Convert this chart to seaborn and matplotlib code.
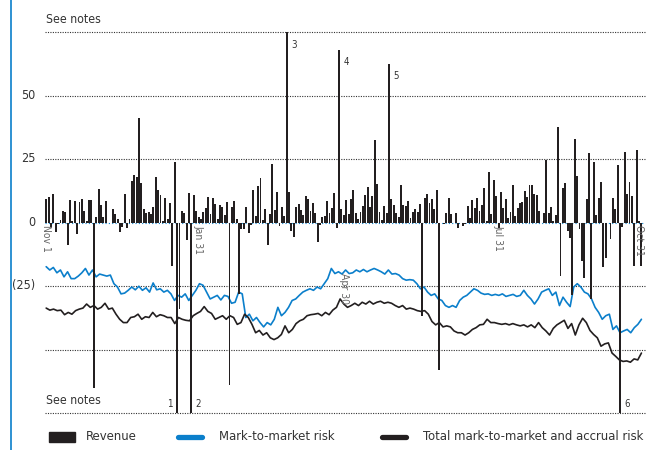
import matplotlib.pyplot as plt
import seaborn as sns
import numpy as np
import pandas as pd
from matplotlib.lines import Line2D
from matplotlib.patches import Rectangle

# Дані: щоденний дохід (Nov 1 - Oct 31), значення поза шкалою = "See notes"
revenue = [
    9.3, 10, -1.7, 11.3, -3.7, -0.7, 1, 4.5, 4.1, -8.7, 8.8, 0.5, 8.5, -4.5, 8.1,
    9.3, 4.5, 0.5, 8.9, 8.9, -65, 2.3, 13.3, 6.7, 2.3, 8.5, 0, 0, 5.3, 3.5, 1.3,
    -3.7, -1.7, 11.3, -2.1, 1.3, 16.5, 18.7, 17.9, 41, 15.7, 5.3, 3.7,
    4, 3.3, 6, 17.9, 12.9, 10.9, 0.5, 9.7, 1.3, 7.7, -17, 24, -80, -34, 4.4, 3.7,
    -7, 11.7, -80, 10.7, 4.5, 2.1, 1.3, 4.3, 5.7, 10.1, 3.3, 9.7, 7.3, 1.3, 6.9,
    6.1, 2.9, 8.1, -64, 6.1, 8.5, 1.3, -28, -2.5,
    -2.4, 6.1, -4, -1, 12.9, 2.5, 14.3, 17.7, 1, 5.3, -8.7, 3.3, 22.9, 4.9, 12.1,
    -1.3, 6.1, 2.5, 90, 12.1, -3.3, -5.7, 6.1, 7.3, 4.9, 2.9, 10.5, 9.3, 4.5, 7.7,
    3.7, -7.7, -1, 2.1, 2.5, 8.5, 3.7, 5.7, 11.7, -2.1, 68, 5.3, 2.9,
    8.9, 3.3, 9.3, 12.9, 3.7, 1.3, 4.1, 6.5, 10.9, 14.1, 6.1, 10.5, 32.5, 15.3, 4.1,
    0.9, 6.5, 3.7, 62.5, 9.3, 6.9, 3.7, 2.1, 14.9, 6.9, 6.5, 8.5, 1.7, 4.1, 5.3,
    4.1, 7.3, -37, 9.7, 11.3, 7.7, 9.3, 5.3, 12.9, -58, 0, -0.5,
    3.7, 9.7, 3.3, 0, 3.7, -2.1, 0, -1.3, -0.5, 6.5, 1.7, 8.9, 5.7, 9.7, 4.5, 6.9,
    13.7, 0.5, 19.7, 3.3, 16.9, 10.5, -2.1, 12.1, 5.7, 9.3, 1.7, 4.1, 14.9, 2.5,
    5.7, 7.7, 8.1, 12.5, 10.1, 14.9, 14.9, 11.3, 10.9, 4.5, 0, 3.7, 24.5,
    3.7, 6.1, 0.5, 2.9, 37.7, -21, 13.7, 15.7, -3.3, -6.1, -28.5, 33, 18.5, -2.5,
    -15, -22, 9.3, 27.3, -30, 23.7, 2.9, 9.7, 16.1, -17.4, -14.1, 0, -6.5, 9.7,
    5.3, 22.5, -80, -1.7, 27.7, 11.3, 16.1, 10.5, -17, 28.5, 0.5, -17,
]

mtm_risk = [
    -17.4, -18.7, -17.7, -19.8, -18.7, -21.4, -19.4, -22.1, -22.1, -21.1, -19.8,
    -18.1, -20.7, -18.7, -21.4, -20.3, -20.7, -21.1, -20.7, -24.1, -25.4, -28.1,
    -27.8, -26.7, -25.4, -26.5, -25.1, -26.7, -25.7, -27.4, -23.8, -26.5, -26.1,
    -27.4, -26.7, -28.1, -30.7, -28.7, -29.4, -28.1, -30.7, -28.7, -26.7, -24.1,
    -24.7, -27.4, -30.1, -29.4, -28.7, -30.5, -28.7, -29.1, -31.8, -31.4, -27.4,
    -28.1, -37.4, -36.1, -38.7, -37.4, -39.4, -41.1, -39.4, -40.3, -38.1, -33.4,
    -36.7, -35.4, -33.4, -30.7, -30.1, -28.7, -27.4, -26.7, -26.1, -26.7, -25.4,
    -26.1, -24.1, -22.1, -18.1, -20.1, -19.4, -20.3, -18.7, -20.1, -19.8, -18.7,
    -19.4, -18.5, -19.4, -18.7, -18.1, -18.7, -19.4, -20.3, -18.7, -20.3, -20.1,
    -20.7, -22.1, -22.7, -22.5, -22.7, -24.1, -26.1, -25.4, -27.4, -28.7, -28.1,
    -30.1, -30.7, -32.7, -33.4, -32.7, -33.4, -30.7, -29.4, -28.7, -27.4, -26.1,
    -26.7, -27.8, -28.3, -28.1, -28.7, -28.3, -28.7, -28.1, -29.1, -28.7, -28.3,
    -29.1, -28.7, -26.7, -28.7, -30.1, -32.1, -30.1, -27.4, -26.7, -26.1, -28.7,
    -27.4, -32.7, -29.4, -31.4, -33.1, -25.4, -24.1, -25.4, -27.4, -28.1, -30.1,
    -33.4, -35.4, -38.1, -36.7, -36.1, -42.1, -40.7, -43.4, -42.7, -42.1, -43.4,
    -41.4, -40.1, -38.1,
]

total_risk = [
    -33.7, -34.5, -34.1, -34.7, -34.5, -36.3, -35.4, -36.1, -34.7, -34.1, -33.7,
    -32.1, -33.4, -32.7, -34.1, -33.4, -31.8, -34.1, -33.7, -36.1, -38.1, -39.4,
    -39.4, -37.4, -37.1, -36.1, -38.1, -37.1, -37.4, -35.4, -37.1, -36.3, -36.7,
    -37.4, -37.4, -39.8, -37.4, -38.1, -38.5, -38.7, -36.7, -35.8, -35.0, -33.1,
    -35.0, -35.8, -38.1, -37.4, -36.7, -38.1, -36.7, -37.4, -40.1, -39.4, -36.1,
    -37.4, -40.1, -43.4, -42.5, -44.3, -43.4, -45.4, -46.1, -45.4, -44.1, -40.7,
    -43.4, -42.1, -39.8, -38.7, -38.1, -36.7, -36.3, -36.1, -35.8, -36.7, -35.4,
    -36.3, -34.5, -33.4, -30.1, -32.1, -33.4, -32.7, -31.8, -32.7, -31.4, -32.1,
    -31.0, -32.1, -31.4, -31.0, -31.8, -31.4, -31.8, -32.7, -33.4, -32.7, -34.1,
    -33.7, -34.1, -34.7, -35.0, -34.7, -36.1, -39.0, -40.3, -39.4, -41.1, -40.7,
    -41.1, -42.7, -43.4, -43.4, -44.3, -43.4, -42.1, -41.4, -40.3, -40.1, -38.1,
    -39.4, -39.4, -39.8, -40.1, -39.8, -40.3, -39.8, -40.3, -40.7, -40.3, -41.1,
    -40.3, -41.4, -39.4, -41.4, -42.7, -44.3, -41.7, -40.3, -39.4, -38.5, -41.7,
    -39.8, -44.3, -40.3, -37.7, -39.4, -42.5, -44.1, -45.4, -48.7, -47.8, -47.4,
    -51.4, -52.7, -54.1, -54.7, -54.5, -55.0, -53.7, -54.1, -51.4,
]

date_labels = ["Nov 1", "Jan 31", "Apr 30", "Jul 31", "Oct 31"]
date_days = [0, 64, 125, 190, 249]
note_labels = ["1", "2", "3", "4", "5", "6"]
note_days = [55, 61, 101, 123, 144, 241]

BAR = "#231f20"
BLUE = "#0b7fcb"
TXT = "#333333"

sns.set_style("white")
plt.rcParams["font.family"] = ["DejaVu Sans"]
plt.rcParams["font.stretch"] = "condensed"

fig = plt.figure(figsize=(6.7, 4.5), dpi=100)
ax = fig.add_axes([45 / 670, 1 - 413 / 450, 600 / 670, 381 / 450])

days = np.arange(len(revenue))
bars_df = pd.DataFrame({"day": days, "revenue": revenue})

# сітка
for v in [75, 50, 25, -25, -50, -75]:
    ax.axhline(v, color="#333333", lw=0.8, ls=(0, (1, 1.2)), zorder=1, clip_on=False)
ax.axhline(0, color=BLUE, lw=0.8, ls=(0, (1, 2)), zorder=1)

# лінії ризику
sns.lineplot(x=np.linspace(0, len(revenue) - 1, len(mtm_risk)), y=mtm_risk,
             color=BLUE, lw=1.2, ax=ax, zorder=2)
sns.lineplot(x=np.linspace(0, len(revenue) - 1, len(total_risk)), y=total_risk,
             color=BAR, lw=1.2, ax=ax, zorder=2)

# стовпці доходу
sns.barplot(data=bars_df, x="day", y="revenue", native_scale=True, color=BAR,
            saturation=1, width=0.8, errorbar=None, ax=ax, zorder=3)
for p in ax.patches:
    p.set_edgecolor("none")

ax.set_xlim(-0.5, len(revenue) + 0.5)
ax.set_ylim(-75, 75)
ax.set_xticks([])
ax.set_yticks([])
ax.set_xlabel("")
ax.set_ylabel("")
sns.despine(ax=ax, left=True, bottom=True)

# підписи осі Y
for v, lab in [(50, "50"), (25, "25"), (0, "0"), (-25, "(25)")]:
    ax.annotate(lab, xy=(0, v), xycoords=("axes fraction", "data"),
                xytext=(-7, 0), textcoords="offset points",
                ha="right", va="center", fontsize=9, color=TXT)
for v in [75, -75]:
    ax.annotate("See notes", xy=(0, v), xycoords=("axes fraction", "data"),
                xytext=(1, 4), textcoords="offset points",
                ha="left", va="bottom", fontsize=8.8, color=TXT)

# підписи дат
for d, lab in zip(date_days, date_labels):
    y0 = -20 if lab == "Apr 30" else -1
    ax.text(d, y0, lab, rotation=270, ha="center", va="top",
            fontsize=7.5, color="#666666")

# номери приміток
for d, lab in zip(note_days, note_labels):
    val = revenue[d]
    if val > 0:
        y = min(val, 75) - 3
        ax.annotate(lab, xy=(d, y), xytext=(3, 0), textcoords="offset points",
                    ha="left", va="top", fontsize=7, color=TXT)
    else:
        off = -3 if lab == "1" else 3
        ax.annotate(lab, xy=(d, -75), xytext=(off, 3), textcoords="offset points",
                    ha="right" if lab == "1" else "left", va="bottom",
                    fontsize=7, color=TXT)

# синя вертикальна рамка зліва
fig.add_artist(Line2D([11 / 670, 11 / 670], [0, 1], color=BLUE, lw=1.2))

# легенда
ly = 1 - 437 / 450
fig.add_artist(Rectangle((49 / 670, ly - 5 / 450), 26 / 670, 10 / 450,
                         color=BAR, transform=fig.transFigure))
fig.add_artist(Line2D([178 / 670, 202 / 670], [ly, ly], color=BLUE, lw=3.8,
                      solid_capstyle="round"))
fig.add_artist(Line2D([382 / 670, 406 / 670], [ly, ly], color=BAR, lw=3.8,
                      solid_capstyle="round"))
fig.text(86 / 670, ly, "Revenue", va="center", fontsize=9.4, color=TXT)
fig.text(219 / 670, ly, "Mark-to-market risk", va="center", fontsize=9.4, color=TXT)
fig.text(423 / 670, ly, "Total mark-to-market and accrual risk", va="center",
         fontsize=9.4, color=TXT)

plt.savefig("out.png", dpi=100)
plt.close()
